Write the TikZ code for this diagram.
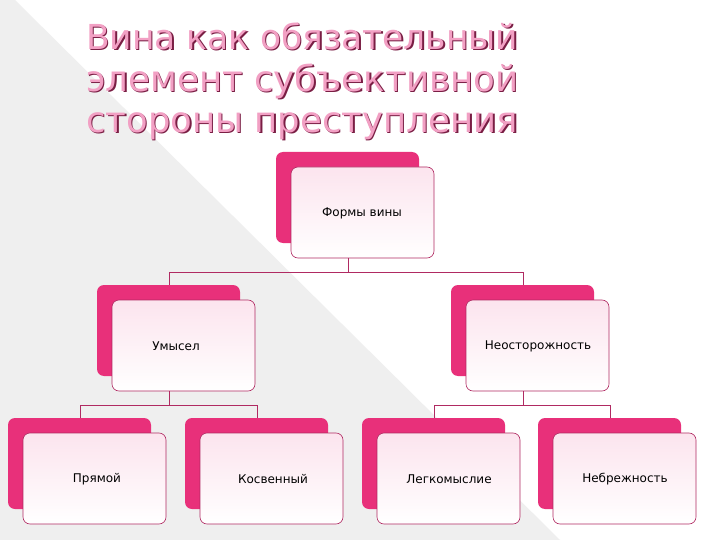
\documentclass[tikz,border=0pt]{standalone}
\usepackage{fontspec}
\setmainfont{DejaVu Sans}
\usetikzlibrary{shadings}
\definecolor{hot}{HTML}{E8307A}
\definecolor{edge}{HTML}{B02A62}
\definecolor{pale}{HTML}{FCE4EE}
\definecolor{bg}{HTML}{EFEFEF}
\definecolor{tpink}{HTML}{F2A0C4}
\definecolor{tdark}{HTML}{7A1E44}
\tikzset{
  x=1pt,y=-1pt,
  back/.style={fill=hot,draw=none,rounded corners=7pt},
  front/.style={top color=pale,bottom color=white,draw=edge,line width=0.6pt,rounded corners=7pt},
  lbl/.style={font=\fontsize{12}{14}\selectfont,text=black},
  conn/.style={draw=edge,line width=0.9pt},
  ttl/.style={font=\fontsize{38}{40}\selectfont,anchor=west,inner sep=0pt}
}
\begin{document}
\begin{tikzpicture}
\useasboundingbox (0,0) rectangle (720,540);
\fill[white] (0,0) rectangle (720,540);
\fill[bg] (0,0) -- (15,0) -- (560,540) -- (0,540) -- cycle;
% title
\foreach \t/\yy in {{Вина как обязательный}/36,{элемент субъективной}/81,{стороны преступления}/126}{
  \node[ttl,text=tdark] at (87.5,\yy+1.5) {\resizebox{432pt}{!}{\t}};
  \node[ttl,text=tpink] at (86,\yy) {\resizebox{432pt}{!}{\t}};
}
% boxes: back then front
\newcommand{\pbox}[5]{%
  \fill[back] (#1,#2) rectangle ++(143,91);
  \path[front] (#1+15,#2+15) rectangle ++(143,91);
  \node[lbl] (#4) at (#1+#5,#2+61) {#3};
  \coordinate (#4t) at (#1+72,#2);
  \coordinate (#4b) at (#1+72,#2+106);
}
\pbox{276}{152}{Формы вины}{root}{86}
\pbox{97}{285}{Умысел}{a}{79}
\pbox{451}{285}{Неосторожность}{b}{87}
\pbox{8}{418}{Прямой}{c}{89}
\pbox{185}{418}{Косвенный}{d}{88}
\pbox{362}{418}{Легкомыслие}{e}{87}
\pbox{538}{418}{Небрежность}{f}{87}
% connectors
\draw[conn] (rootb) -- ++(0,14) -| (at);
\draw[conn] (rootb) ++(0,14) -| (bt);
\draw[conn] (ab) -- ++(0,14) -| (ct);
\draw[conn] (ab) ++(0,14) -| (dt);
\draw[conn] (bb) -- ++(0,14) -| (et);
\draw[conn] (bb) ++(0,14) -| (ft);
\end{tikzpicture}
\end{document}
